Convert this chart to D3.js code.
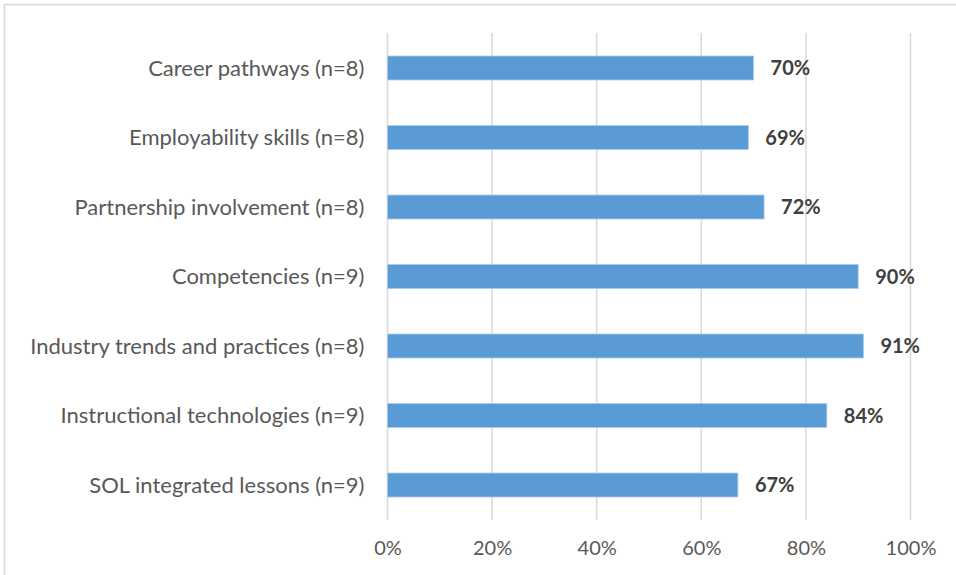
<!DOCTYPE html>
<html><head><meta charset="utf-8">
<script src="https://cdn.jsdelivr.net/npm/d3@7"></script>
<style>body{margin:0;background:#fff;}svg{display:block;}</style>
</head><body>
<svg id="c" width="956" height="575"></svg>
<script>
const categories = ["Career pathways (n=8)","Employability skills (n=8)","Partnership involvement (n=8)","Competencies (n=9)","Industry trends and practices (n=8)","Instructional technologies (n=9)","SOL integrated lessons (n=9)"];
const values = [0.70,0.69,0.72,0.90,0.91,0.84,0.67];
const valueLabels = ["70%","69%","72%","90%","91%","84%","67%"];
const tickValues = [0,0.2,0.4,0.6,0.8,1.0];
const tickLabels = ["0%","20%","40%","60%","80%","100%"];

const svg = d3.select("#c");
const font = "Lato, 'Open Sans', sans-serif";
svg.append("rect").attr("x",4.5).attr("y",4.5).attr("width",1200).attr("height",1200)
  .attr("fill","#fff").attr("stroke","#D9D9D9").attr("stroke-width",1.5);

const x = d3.scaleLinear().domain([0,1]).range([387.5,910.5]);
const y = d3.scaleBand().domain(categories).range([33.25,519.75]).paddingInner(0.655).paddingOuter(0.3275);

// gridlines
svg.append("g").selectAll("line").data(tickValues).join("line")
  .attr("x1",d=>x(d)).attr("x2",d=>x(d)).attr("y1",33).attr("y2",520)
  .attr("stroke","#D9D9D9").attr("stroke-width",1.5);

// x axis labels
const xAxis = d3.axisBottom(x).tickValues(tickValues).tickFormat((d,i)=>tickLabels[i]).tickSize(0).tickPadding(0);
const gx = svg.append("g").attr("transform","translate(0,541)").call(xAxis);
gx.select(".domain").remove();
gx.selectAll("text").attr("font-family",font).attr("font-size",20).attr("fill","#595959");

// y axis labels
const yAxis = d3.axisLeft(y).tickSize(0).tickPadding(23);
const gy = svg.append("g").attr("transform","translate(387.5,0)").call(yAxis);
gy.select(".domain").remove();
gy.selectAll("text").attr("font-family",font).attr("font-size",22).attr("fill","#595959").attr("dy","0.35em");

// bars
svg.append("g").selectAll("rect").data(values).join("rect")
  .attr("x",x(0)).attr("y",(d,i)=>y(categories[i]))
  .attr("width",d=>x(d)-x(0)).attr("height",y.bandwidth())
  .attr("fill","#5B9BD5").attr("stroke","#A9CBEA").attr("stroke-width",0.8);

// data labels
svg.append("g").selectAll("text").data(values).join("text")
  .attr("x",d=>x(d)+17).attr("y",(d,i)=>y(categories[i])+y.bandwidth()/2)
  .attr("dy","0.35em").attr("font-family",font).attr("font-weight","bold")
  .attr("font-size",20).attr("fill","#404040").text((d,i)=>valueLabels[i]);
</script>
</body></html>
